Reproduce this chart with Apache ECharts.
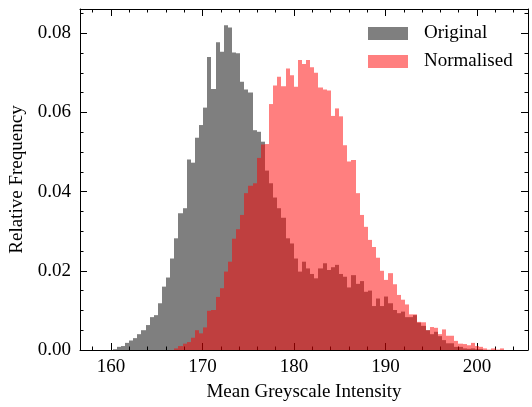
<!DOCTYPE html>
<html>
<head>
<meta charset="utf-8">
<script src="https://cdn.jsdelivr.net/npm/echarts@6/dist/echarts.min.js"></script>
<style>
html,body{margin:0;padding:0;background:#fff;}
#chart{width:532px;height:407px;}
</style>
</head>
<body>
<div id="chart"></div>
<script>
// Histogram bins (shared by both series)
const BIN_START = 158.82;
const BIN_WIDTH = 0.45;

// Relative frequency per bin – "Original"
const originalFreq = [
  0, 0, 0, 0.0002, 0.0008, 0.001, 0.0018, 0.0024, 0.003, 0.004,
  0.005, 0.0063, 0.0083, 0.0088, 0.0118, 0.016, 0.0183, 0.0231, 0.0282, 0.0345,
  0.0358, 0.0481, 0.0473, 0.0536, 0.0568, 0.0612, 0.074, 0.0659, 0.0777, 0.0753,
  0.082, 0.0814, 0.0751, 0.0749, 0.0677, 0.0658, 0.065, 0.0555, 0.0551, 0.0526,
  0.0453, 0.0421, 0.0385, 0.0358, 0.0334, 0.0282, 0.0269, 0.0231, 0.0198, 0.0223,
  0.0206, 0.0192, 0.0181, 0.0206, 0.0219, 0.0202, 0.0209, 0.0215, 0.0192, 0.0185,
  0.0158, 0.0189, 0.0167, 0.0174, 0.0147, 0.015, 0.0111, 0.013, 0.0111, 0.0135,
  0.0118, 0.0101, 0.0093, 0.0097, 0.0083, 0.0083, 0.0088, 0.0069, 0.0061, 0.005,
  0.004, 0.0046, 0.0035, 0.0025, 0.0017, 0.0017, 0.0008, 0.0008, 0.0004, 0.0003,
  0.0004, 0.0002, 0.0002, 0, 0, 0, 0, 0, 0, 0
];

// Relative frequency per bin – "Normalised"
const normalisedFreq = [
  0, 0, 0, 0, 0, 0, 0, 0, 0, 0,
  0, 0, 0, 0, 0, 0, 0, 0, 0.0004, 0.001,
  0.0016, 0.002, 0.0031, 0.005, 0.0042, 0.0057, 0.0099, 0.0101, 0.0134, 0.0156,
  0.0198, 0.0223, 0.0281, 0.0305, 0.0341, 0.0396, 0.0415, 0.0421, 0.0485, 0.0519,
  0.052, 0.0621, 0.0668, 0.069, 0.0666, 0.0711, 0.0694, 0.0665, 0.0732, 0.0722,
  0.0732, 0.0714, 0.07, 0.0663, 0.0658, 0.0655, 0.0591, 0.061, 0.059, 0.0517,
  0.0476, 0.048, 0.0396, 0.0341, 0.0311, 0.0278, 0.026, 0.0233, 0.02, 0.0177,
  0.0194, 0.0166, 0.0139, 0.0127, 0.0115, 0.009, 0.009, 0.0071, 0.007, 0.005,
  0.0058, 0.0056, 0.004, 0.0052, 0.0036, 0.0036, 0.0023, 0.0016, 0.0015, 0.0012,
  0.0018, 0.001, 0.0008, 0.0004, 0.0001, 0.0004, 0.0001, 0.0004, 0, 0
];

const seriesNames = ['Original', 'Normalised'];

// Axis ticks
const xMajorTicks = [160, 170, 180, 190, 200];
const xMinorTicks = [158, 162, 164, 166, 168, 172, 174, 176, 178, 182, 184, 186, 188, 192, 194, 196, 198, 202, 204];
const yMajorTicks = [0, 0.02, 0.04, 0.06, 0.08];
const yMinorTicks = [0.005, 0.01, 0.015, 0.025, 0.03, 0.035, 0.045, 0.05, 0.055, 0.065, 0.07, 0.075, 0.085];

const X_MIN = 156.61, X_MAX = 205.57;
const Y_MIN = 0, Y_MAX = 0.0861;

const FONT = 'Liberation Serif, Times New Roman, serif';

function toData(freq) {
  return freq.map((v, i) => [BIN_START + i * BIN_WIDTH, BIN_START + (i + 1) * BIN_WIDTH, v]);
}

function makeRender(fill) {
  return function (params, api) {
    const v = api.value(2);
    if (!v) return null;
    const p0 = api.coord([api.value(0), v]);
    const p1 = api.coord([api.value(1), 0]);
    const l = Math.round(p0[0]);
    const r = Math.round(p1[0]);
    return {
      type: 'rect',
      shape: { x: l, y: p0[1], width: r - l, height: p1[1] - p0[1] },
      style: { fill: fill }
    };
  };
}

const lineStyle = { color: '#000', width: 1 };

function xAxisDef(position, ticks, len, showLine, showLabel) {
  return {
    type: 'value', position: position, min: X_MIN, max: X_MAX,
    axisLine: { show: showLine, onZero: false, lineStyle: lineStyle },
    axisTick: { show: true, inside: true, length: len, customValues: ticks, lineStyle: lineStyle },
    axisLabel: showLabel ? { show: true, customValues: ticks, color: '#000', fontFamily: FONT, fontSize: 19, margin: 8 } : { show: false },
    splitLine: { show: false }
  };
}
function yAxisDef(position, ticks, len, showLine, showLabel) {
  return {
    type: 'value', position: position, min: Y_MIN, max: Y_MAX,
    axisLine: { show: showLine, onZero: false, lineStyle: lineStyle },
    axisTick: { show: true, inside: true, length: len, customValues: ticks, lineStyle: lineStyle },
    axisLabel: showLabel ? { show: true, customValues: ticks, color: '#000', fontFamily: FONT, fontSize: 19, margin: 9, formatter: v => v.toFixed(2) } : { show: false },
    splitLine: { show: false }
  };
}

const xMain = xAxisDef('bottom', xMajorTicks, 7, true, true);
xMain.name = 'Mean Greyscale Intensity';
xMain.nameLocation = 'middle';
xMain.nameGap = 33;
xMain.nameTextStyle = { color: '#000', fontFamily: FONT, fontSize: 19 };

const yMain = yAxisDef('left', yMajorTicks, 7, true, true);
yMain.name = 'Relative Frequency';
yMain.nameLocation = 'middle';
yMain.nameGap = 52;
yMain.nameTextStyle = { color: '#000', fontFamily: FONT, fontSize: 19 };

const chart = echarts.init(document.getElementById('chart'), null, { renderer: 'canvas' });
chart.setOption({
  animation: false,
  backgroundColor: '#fff',
  grid: { left: 80, right: 4, top: 9, bottom: 57, containLabel: false, outerBoundsMode: 'none' },
  legend: {
    orient: 'vertical', left: 368, top: 24, padding: 0,
    itemWidth: 40, itemHeight: 13, itemGap: 9,
    icon: 'rect',
    textStyle: { color: '#000', fontFamily: FONT, fontSize: 19, padding: [0, 0, 0, 11] },
    data: seriesNames
  },
  xAxis: [
    xMain,
    xAxisDef('bottom', xMinorTicks, 3.5, false, false),
    xAxisDef('top', xMajorTicks, 7, true, false),
    xAxisDef('top', xMinorTicks, 3.5, false, false)
  ],
  yAxis: [
    yMain,
    yAxisDef('left', yMinorTicks, 3.5, false, false),
    yAxisDef('right', yMajorTicks, 7, true, false),
    yAxisDef('right', yMinorTicks, 3.5, false, false)
  ],
  series: [
    {
      name: seriesNames[0], type: 'custom', xAxisIndex: 0, yAxisIndex: 0,
      itemStyle: { color: 'rgba(0,0,0,0.5)' },
      encode: { x: [0, 1], y: 2 },
      renderItem: makeRender('rgba(0,0,0,0.5)'),
      data: toData(originalFreq)
    },
    {
      name: seriesNames[1], type: 'custom', xAxisIndex: 0, yAxisIndex: 0,
      itemStyle: { color: 'rgba(255,0,0,0.5)' },
      encode: { x: [0, 1], y: 2 },
      renderItem: makeRender('rgba(255,0,0,0.5)'),
      data: toData(normalisedFreq)
    }
  ]
});
</script>
</body>
</html>
